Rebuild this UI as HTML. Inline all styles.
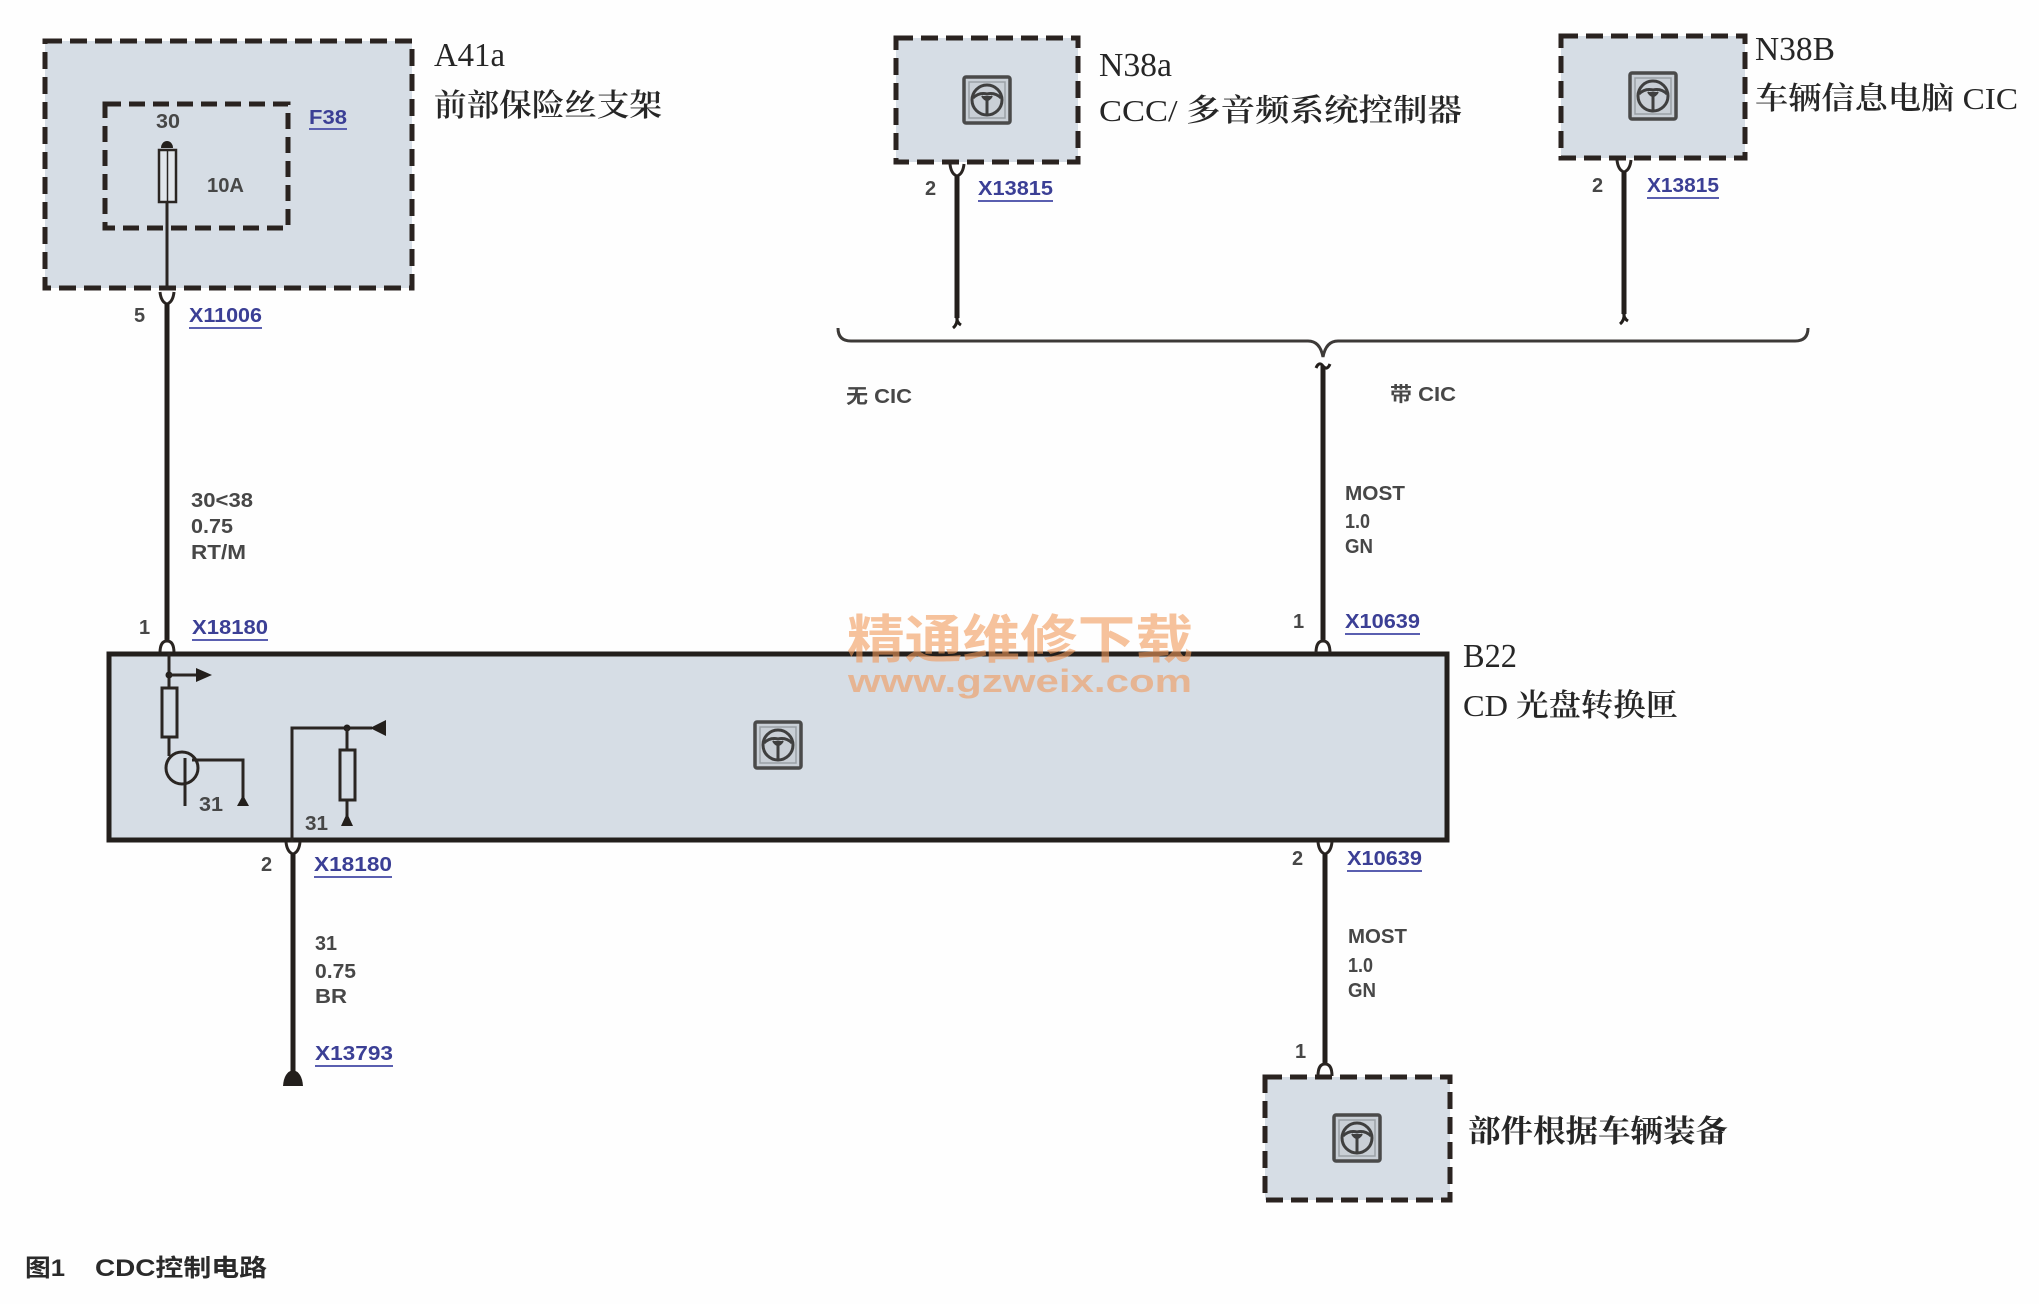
<!DOCTYPE html>
<html>
<head>
<meta charset="utf-8">
<style>
  html,body{margin:0;padding:0;background:#fefefe;}
  svg{display:block;}
  .tt{font-family:"Liberation Serif","Noto Serif CJK SC",serif;fill:#262626;font-size:34px;}
  .cj{font-family:"Liberation Serif","Noto Serif CJK SC",serif;fill:#262626;font-size:31px;font-weight:400;}
  .b{font-weight:600;}
  .wl{font-family:"Liberation Sans",sans-serif;fill:#474747;font-size:20px;font-weight:700;}
  .xc{font-family:"Liberation Sans",sans-serif;fill:#3b3f95;font-size:20px;font-weight:700;}
  .ul{stroke:#5a5fb0;stroke-width:2;}
  .wire{stroke:#231f1c;stroke-width:5;fill:none;}
  .thin{stroke:#2a2522;stroke-width:3;fill:none;}
  .dash{fill:#d6dde5;stroke:#2a2320;stroke-width:5;stroke-dasharray:17 8;}
</style>
</head>
<body>
<svg width="2039" height="1304" viewBox="0 0 2039 1304" xmlns="http://www.w3.org/2000/svg">
  <rect width="2039" height="1304" fill="#fefefe"/>

  <defs>
    <g id="icon">
      <rect x="-23" y="-23" width="46" height="46" rx="2" fill="#c9cfd6" stroke="#4a4a4a" stroke-width="3.5"/>
      <rect x="-18" y="-18" width="36" height="36" fill="none" stroke="#9aa0a6" stroke-width="1.5"/>
      <circle cx="0" cy="0" r="15" fill="none" stroke="#3f3f3f" stroke-width="3"/>
      <path d="M-14,-2 Q-8,-8 0,-6 Q8,-8 14,-2" fill="none" stroke="#3f3f3f" stroke-width="3"/>
      <path d="M-5,-4 Q0,4 5,-4" fill="#3f3f3f" stroke="#3f3f3f" stroke-width="2"/>
      <line x1="0" y1="0" x2="0" y2="15" stroke="#3f3f3f" stroke-width="3"/>
    </g>
  </defs>

  <!-- ===== A41a ===== -->
  <rect class="dash" x="45" y="41" width="367" height="247"/>
  <rect x="105" y="104" width="183" height="124" fill="none" stroke="#2a2320" stroke-width="5" stroke-dasharray="16 8"/>
  <text class="wl" x="156" y="128" textLength="24" lengthAdjust="spacingAndGlyphs">30</text>
  <text class="xc" x="309" y="124" textLength="38" lengthAdjust="spacingAndGlyphs">F38</text>
  <line class="ul" x1="309" y1="129" x2="347" y2="129"/>
  <text class="wl" x="207" y="192" textLength="37" lengthAdjust="spacingAndGlyphs">10A</text>
  <!-- fuse -->
  <path d="M161,148 A6,7 0 0 1 173,148 Z" fill="#231f1c"/>
  <rect x="159" y="150" width="17" height="52" fill="#e2e6eb" stroke="#2a2522" stroke-width="2.5"/>
  <line x1="167.5" y1="150" x2="167.5" y2="202" stroke="#2a2522" stroke-width="1.5"/>
  <line class="thin" x1="167" y1="202" x2="167" y2="290"/>
  <!-- fork -->
  <path d="M160,292 Q161,302 167,304 Q173,302 174,292" class="thin"/>
  <line class="wire" x1="167" y1="303" x2="167" y2="641"/>
  <path d="M160,653 Q160,641 167,641 Q174,641 174,653" class="thin"/>
  <text class="tt" x="434" y="66" textLength="71" lengthAdjust="spacingAndGlyphs">A41a</text>
  <text class="cj b" x="434" y="116" textLength="228" lengthAdjust="spacingAndGlyphs">前部保险丝支架</text>

  <text class="wl" x="134" y="322">5</text>
  <text class="xc" x="189" y="322" textLength="73" lengthAdjust="spacingAndGlyphs">X11006</text>
  <line class="ul" x1="189" y1="328" x2="262" y2="328"/>
  <text class="wl" x="191" y="507" textLength="62" lengthAdjust="spacingAndGlyphs">30&lt;38</text>
  <text class="wl" x="191" y="533" textLength="42" lengthAdjust="spacingAndGlyphs">0.75</text>
  <text class="wl" x="191" y="559" textLength="55" lengthAdjust="spacingAndGlyphs">RT/M</text>
  <text class="wl" x="139" y="634">1</text>
  <text class="xc" x="192" y="634" textLength="76" lengthAdjust="spacingAndGlyphs">X18180</text>
  <line class="ul" x1="192" y1="640" x2="268" y2="640"/>

  <!-- ===== B22 ===== -->
  <rect x="109" y="654" width="1338" height="186" fill="#d6dde5" stroke="#231f1c" stroke-width="5"/>
  <text class="tt" x="1463" y="667" textLength="54" lengthAdjust="spacingAndGlyphs">B22</text>
  <text class="cj" x="1463" y="716" textLength="215" lengthAdjust="spacingAndGlyphs">CD <tspan class="b">光盘转换匣</tspan></text>
  <use href="#icon" x="778" y="745"/>

  <!-- left internal circuit -->
  <line class="thin" x1="169" y1="653" x2="169" y2="688"/>
  <circle cx="169" cy="675" r="3.5" fill="#231f1c"/>
  <line class="thin" x1="169" y1="675" x2="200" y2="675"/>
  <polygon points="196,668 212,675 196,682" fill="#231f1c"/>
  <rect x="162" y="688" width="15" height="49" fill="none" stroke="#2a2522" stroke-width="3"/>
  <line class="thin" x1="169" y1="737" x2="169" y2="756"/>
  <circle cx="182" cy="768" r="16" fill="none" stroke="#2a2522" stroke-width="3"/>
  <line class="thin" x1="185" y1="758" x2="185" y2="806"/>
  <polyline class="thin" points="192,760 243,760 243,798"/>
  <polygon points="237,806 243,795 249,806" fill="#231f1c"/>
  <text class="wl" x="199" y="811" textLength="24" lengthAdjust="spacingAndGlyphs">31</text>

  <polyline class="thin" points="292,842 292,728 372,728"/>
  <polygon points="370,728 386,720 386,736" fill="#231f1c"/>
  <circle cx="347" cy="728" r="3.5" fill="#231f1c"/>
  <line class="thin" x1="347" y1="728" x2="347" y2="750"/>
  <rect x="340" y="750" width="15" height="50" fill="none" stroke="#2a2522" stroke-width="3"/>
  <line class="thin" x1="347" y1="800" x2="347" y2="816"/>
  <polygon points="341,826 347,813 353,826" fill="#231f1c"/>
  <text class="wl" x="305" y="830" textLength="23" lengthAdjust="spacingAndGlyphs">31</text>

  <!-- bottom-left wire -->
  <path d="M286,842 Q287,852 293,854 Q299,852 300,842" class="thin"/>
  <line class="wire" x1="293" y1="853" x2="293" y2="1078"/>
  <path d="M283,1086 Q284,1072 293,1070 Q302,1072 303,1086 Z" fill="#231f1c"/>
  <text class="wl" x="261" y="871">2</text>
  <text class="xc" x="314" y="871" textLength="78" lengthAdjust="spacingAndGlyphs">X18180</text>
  <line class="ul" x1="314" y1="877" x2="392" y2="877"/>
  <text class="wl" x="315" y="950" textLength="22" lengthAdjust="spacingAndGlyphs">31</text>
  <text class="wl" x="315" y="978" textLength="41" lengthAdjust="spacingAndGlyphs">0.75</text>
  <text class="wl" x="315" y="1003" textLength="32" lengthAdjust="spacingAndGlyphs">BR</text>
  <text class="xc" x="315" y="1060" textLength="78" lengthAdjust="spacingAndGlyphs">X13793</text>
  <line class="ul" x1="315" y1="1066" x2="393" y2="1066"/>

  <!-- ===== N38a ===== -->
  <rect class="dash" x="896" y="38" width="182" height="124"/>
  <use href="#icon" x="987" y="100"/>
  <text class="tt" x="1099" y="76" textLength="73" lengthAdjust="spacingAndGlyphs">N38a</text>
  <text class="cj" x="1099" y="121" textLength="363" lengthAdjust="spacingAndGlyphs">CCC/ <tspan class="b">多音频系统控制器</tspan></text>
  <path d="M950,164 Q951,174 957,176 Q963,174 964,164" class="thin"/>
  <line class="wire" x1="957" y1="175" x2="957" y2="318"/>
  <path d="M957,316 Q958,324 953,328 M957,316 Q956,322 961,325" stroke="#231f1c" stroke-width="3" fill="none"/>
  <text class="wl" x="925" y="195">2</text>
  <text class="xc" x="978" y="195" textLength="75" lengthAdjust="spacingAndGlyphs">X13815</text>
  <line class="ul" x1="978" y1="201" x2="1053" y2="201"/>

  <!-- ===== N38B ===== -->
  <rect class="dash" x="1561" y="36" width="184" height="122"/>
  <use href="#icon" x="1653" y="96"/>
  <text class="tt" x="1755" y="60" textLength="80" lengthAdjust="spacingAndGlyphs">N38B</text>
  <text class="cj" x="1755" y="109" textLength="263" lengthAdjust="spacingAndGlyphs"><tspan class="b">车辆信息电脑</tspan> CIC</text>
  <path d="M1617,160 Q1618,170 1624,172 Q1630,170 1631,160" class="thin"/>
  <line class="wire" x1="1624" y1="171" x2="1624" y2="314"/>
  <path d="M1624,312 Q1625,320 1620,324 M1624,312 Q1623,318 1628,321" stroke="#231f1c" stroke-width="3" fill="none"/>
  <text class="wl" x="1592" y="192">2</text>
  <text class="xc" x="1647" y="192" textLength="72" lengthAdjust="spacingAndGlyphs">X13815</text>
  <line class="ul" x1="1647" y1="198" x2="1719" y2="198"/>

  <!-- ===== brace ===== -->
  <path d="M838,328 Q838,341 851,341 L1308,341 Q1320,341 1323,357 Q1326,341 1338,341 L1795,341 Q1808,341 1808,328" fill="none" stroke="#3d3a38" stroke-width="3"/>
  <path d="M1316,368 Q1319,361 1323,366 Q1327,371 1330,364" fill="none" stroke="#231f1c" stroke-width="3"/>
  <line class="wire" x1="1323" y1="366" x2="1323" y2="641"/>
  <path d="M1316,653 Q1316,641 1323,641 Q1330,641 1330,653" class="thin"/>
  <text class="wl" x="846" y="403" textLength="66" lengthAdjust="spacingAndGlyphs" style="font-family:'Liberation Sans','Noto Sans CJK SC',sans-serif;">无 CIC</text>
  <text class="wl" x="1390" y="401" textLength="66" lengthAdjust="spacingAndGlyphs" style="font-family:'Liberation Sans','Noto Sans CJK SC',sans-serif;">带 CIC</text>

  <text class="wl" x="1345" y="500" textLength="60" lengthAdjust="spacingAndGlyphs">MOST</text>
  <text class="wl" x="1345" y="528" textLength="25" lengthAdjust="spacingAndGlyphs">1.0</text>
  <text class="wl" x="1345" y="553" textLength="28" lengthAdjust="spacingAndGlyphs">GN</text>
  <text class="wl" x="1293" y="628">1</text>
  <text class="xc" x="1345" y="628" textLength="75" lengthAdjust="spacingAndGlyphs">X10639</text>
  <line class="ul" x1="1345" y1="634" x2="1420" y2="634"/>

  <!-- ===== bottom right ===== -->
  <path d="M1318,842 Q1319,852 1325,854 Q1331,852 1332,842" class="thin"/>
  <line class="wire" x1="1325" y1="853" x2="1325" y2="1064"/>
  <path d="M1318,1076 Q1318,1064 1325,1064 Q1332,1064 1332,1076" class="thin"/>
  <text class="wl" x="1292" y="865">2</text>
  <text class="xc" x="1347" y="865" textLength="75" lengthAdjust="spacingAndGlyphs">X10639</text>
  <line class="ul" x1="1347" y1="871" x2="1422" y2="871"/>
  <text class="wl" x="1348" y="943" textLength="59" lengthAdjust="spacingAndGlyphs">MOST</text>
  <text class="wl" x="1348" y="972" textLength="25" lengthAdjust="spacingAndGlyphs">1.0</text>
  <text class="wl" x="1348" y="997" textLength="28" lengthAdjust="spacingAndGlyphs">GN</text>
  <text class="wl" x="1295" y="1058">1</text>
  <rect class="dash" x="1265" y="1077" width="185" height="123"/>
  <use href="#icon" x="1357" y="1138"/>
  <text class="cj" x="1468" y="1142" textLength="260" lengthAdjust="spacingAndGlyphs" style="font-weight:700;">部件根据车辆装备</text>

  <!-- ===== watermark ===== -->
  <text x="847" y="658" textLength="346" lengthAdjust="spacingAndGlyphs" style="font-family:'Noto Sans CJK SC','WenQuanYi Zen Hei',sans-serif;font-size:52px;font-weight:700;fill:#f09a5a;fill-opacity:0.6;">精通维修下载</text>
  <text x="848" y="692" textLength="344" lengthAdjust="spacingAndGlyphs" style="font-family:'Liberation Sans',sans-serif;font-size:32px;font-weight:700;fill:#f09a5a;fill-opacity:0.6;">www.gzweix.com</text>

  <!-- ===== caption ===== -->
  <text x="25" y="1276" textLength="40" lengthAdjust="spacingAndGlyphs" style="font-family:'Liberation Sans','Noto Sans CJK SC',sans-serif;font-size:24px;font-weight:700;fill:#2a2a2a;">图1</text>
  <text x="95" y="1276" textLength="172" lengthAdjust="spacingAndGlyphs" style="font-family:'Liberation Sans','Noto Sans CJK SC',sans-serif;font-size:24px;font-weight:700;fill:#2a2a2a;">CDC控制电路</text>
</svg>
</body>
</html>
